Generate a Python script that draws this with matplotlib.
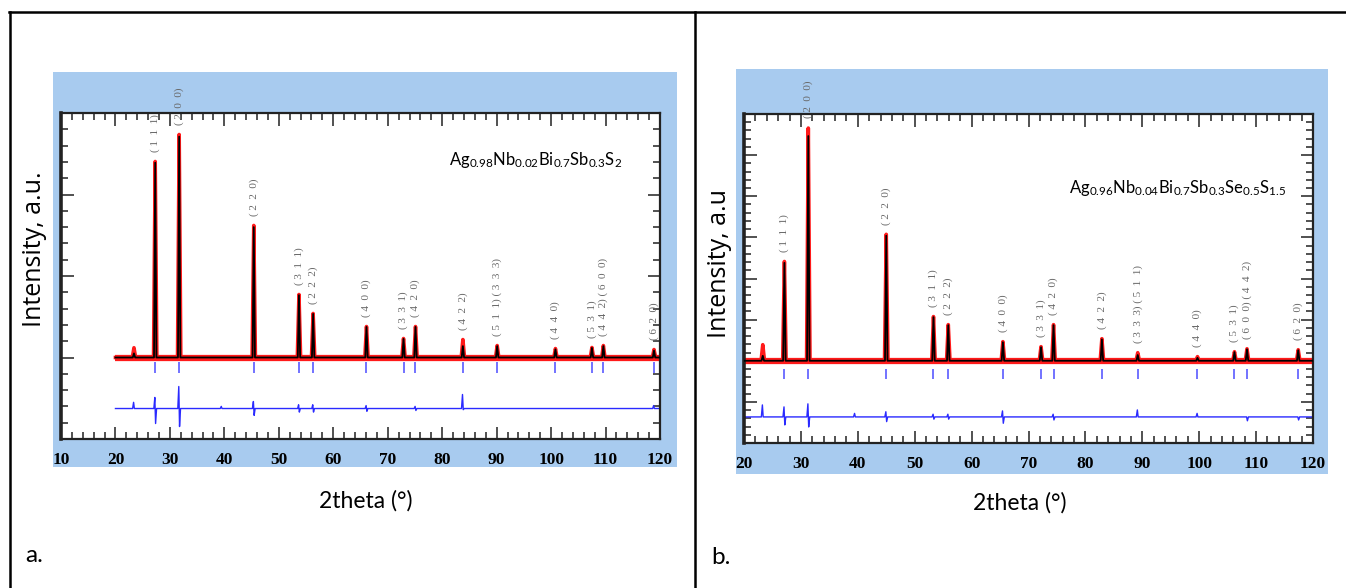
import matplotlib.pyplot as plt
from matplotlib.patches import Rectangle
from matplotlib.lines import Line2D
from matplotlib.ticker import MultipleLocator

plt.rcParams['mathtext.default'] = 'regular'

# ---- panel a : Ag0.98Nb0.02Bi0.7Sb0.3S2 ----
a_peak_pos = [23.4, 27.3, 31.7, 45.4, 53.7, 56.3, 66.1, 72.9, 75.1, 83.8, 90.1, 100.8, 107.5, 109.6, 118.9]
a_obs = [120, 2405, 2736, 1620, 773, 540, 380, 233, 380, 220, 147, 110, 123, 147, 98]
a_calc = [50, 2390, 2710, 1600, 765, 535, 375, 228, 375, 140, 140, 100, 118, 140, 85]
a_bragg = [27.3, 31.7, 45.4, 53.7, 56.3, 66.1, 72.9, 75.1, 83.8, 90.1, 100.8, 107.5, 109.6, 118.9]
a_hkl = ['( 1  1  1)', '( 2  0  0)', '( 2  2  0)', '( 3  1  1)', '( 2  2  2)', '( 4  0  0)',
         '( 3  3  1)', '( 4  2  0)', '( 4  2  2)', '( 5  1  1) ( 3  3  3)', '( 4  4  0)',
         '( 5  3  1)', '( 4  4  2) ( 6  0  0)', '( 6  2  0)']
a_diff_pos = [23.4, 27.3, 31.7, 39.5, 45.4, 53.7, 56.3, 66.1, 75.1, 83.8, 118.9]
a_diff_hi = [-550, -490, -356, -600, -540, -580, -580, -590, -600, -454, -590]
a_diff_lo = [-626, -810, -847, -626, -710, -670, -670, -660, -650, -640, -626]
a_diff_base = -626
a_formula = 'Ag$_{0.98}$Nb$_{0.02}$Bi$_{0.7}$Sb$_{0.3}$S$_{2}$'

# ---- panel b : Ag0.96Nb0.04Bi0.7Sb0.3Se0.5S1.5 ----
b_peak_pos = [23.3, 27.1, 31.3, 45.0, 53.3, 55.9, 65.5, 72.2, 74.4, 82.9, 89.2, 99.7, 106.2, 108.4, 117.4]
b_obs = [195, 1207, 2829, 1537, 537, 439, 232, 171, 439, 268, 98, 50, 110, 146, 134]
b_calc = [60, 1190, 2732, 1520, 530, 432, 225, 165, 432, 260, 70, 35, 105, 140, 128]
b_bragg = [27.1, 31.3, 45.0, 53.3, 55.9, 65.5, 72.2, 74.4, 82.9, 89.2, 99.7, 106.2, 108.4, 117.4]
b_hkl = ['( 1  1  1)', '( 2  0  0)', '( 2  2  0)', '( 3  1  1)', '( 2  2  2)', '( 4  0  0)',
         '( 3  3  1)', '( 4  2  0)', '( 4  2  2)', '( 3  3  3) ( 5  1  1)', '( 4  4  0)',
         '( 5  3  1)', '( 6  0  0) ( 4  4  2)', '( 6  2  0)']
b_diff_pos = [23.3, 27.1, 31.3, 39.5, 45.0, 53.3, 55.9, 65.5, 74.4, 89.2, 99.7, 108.4, 117.4]
b_diff_hi = [-537, -561, -524, -640, -620, -650, -650, -610, -650, -598, -640, -683, -683]
b_diff_lo = [-683, -780, -805, -683, -740, -710, -710, -760, -720, -683, -683, -730, -720]
b_diff_base = -683
b_formula = 'Ag$_{0.96}$Nb$_{0.04}$Bi$_{0.7}$Sb$_{0.3}$Se$_{0.5}$S$_{1.5}$'

W, H = 1346, 588
BLUE = '#a8cbef'
fig = plt.figure(figsize=(W / 100, H / 100), dpi=100)


def fx(px):
    return px / W


def fy(py):
    return 1 - py / H


# table borders
fig.add_artist(Line2D([fx(9), 1], [fy(12), fy(12)], color='black', lw=1.8))
fig.add_artist(Line2D([fx(10), fx(10)], [fy(12), 0], color='black', lw=1.8))
fig.add_artist(Line2D([fx(695), fx(695)], [fy(12), 0], color='black', lw=1.8))


def pattern(pos, hts, x0, x1, w):
    xs, ys = [x0], [0]
    for p, h in zip(pos, hts):
        xs += [p - w, p, p + w]
        ys += [0, h, 0]
    xs.append(x1)
    ys.append(0)
    return xs, ys


def diff_curve(base, pos, hi, lo, x0, x1):
    xs, ys = [x0], [base]
    for p, a, b in zip(pos, hi, lo):
        xs += [p - 0.25, p - 0.07, p + 0.07, p + 0.25]
        ys += [base, a, b, base]
    xs.append(x1)
    ys.append(base)
    return xs, ys


def panel(blue_box, ax_box, xlim, ylim, ymaj, ymin, pos, obs, calc, bragg, bragg_y, hkl,
          dpos, dhi, dlo, dbase, formula, fpos, ylab, ylab_xy, xlab_xy, letter, letter_xy, pad):
    l, t, r, b = blue_box
    fig.add_artist(Rectangle((fx(l), fy(b)), (r - l) / W, (b - t) / H, color=BLUE, zorder=-1, lw=0))
    l, t, r, b = ax_box
    ax = fig.add_axes([fx(l), fy(b), (r - l) / W, (b - t) / H])
    ax.set_xlim(*xlim)
    ax.set_ylim(*ylim)

    # observed (red), calculated (black)
    ax.hlines(0, 20, 120, color='#ff1a1a', lw=4.5, zorder=2)
    xs, ys = pattern(pos, obs, 20, 120, 0.3)
    ax.plot(xs, ys, color='#ff1a1a', lw=2.6, zorder=2, solid_joinstyle='round')
    xs, ys = pattern(pos, calc, 20, 120, 0.22)
    ax.plot(xs, ys, color='black', lw=1.3, zorder=3)
    # Bragg positions and difference curve
    ax.vlines(bragg, bragg_y[0], bragg_y[1], color='#5a5aff', lw=1.2, zorder=2)
    xs, ys = diff_curve(dbase, dpos, dhi, dlo, 20, 120)
    ax.plot(xs, ys, color='#2a2aff', lw=1.0, zorder=2)

    for p, h, lab in zip(bragg, obs[1:], hkl):
        ax.annotate(lab, (p, h), xytext=(0, 7), textcoords='offset points', rotation=90,
                    ha='center', va='bottom', fontsize=8, color='#686868',
                    family='Liberation Serif')

    ax.text(fpos[0], fpos[1], formula, transform=ax.transAxes, ha='center', va='center',
            fontsize=12, family='Lato')

    ax.xaxis.set_major_locator(MultipleLocator(10))
    ax.xaxis.set_minor_locator(MultipleLocator(2))
    ax.yaxis.set_major_locator(MultipleLocator(ymaj))
    ax.yaxis.set_minor_locator(MultipleLocator(ymin))
    ax.tick_params(which='both', direction='in', top=True, right=True, labelleft=False,
                   width=1.1, color='#222222')
    ax.tick_params(which='major', length=9, pad=pad, labelsize=12.5)
    ax.tick_params(which='minor', length=5)
    plt.setp(ax.get_xticklabels(), family='Liberation Serif', weight='bold')
    for s in ax.spines.values():
        s.set_linewidth(1.6)
        s.set_color('#222222')
    ax.spines['left'].set_linewidth(2.6)

    fig.text(fx(ylab_xy[0]), fy(ylab_xy[1]), ylab, rotation=90, ha='center', va='center',
             fontsize=18, family='Open Sans')
    fig.text(fx(xlab_xy[0]), fy(xlab_xy[1]), '2theta (°)', ha='center', va='center',
             fontsize=16.5, family='Lato')
    fig.text(fx(letter_xy[0]), fy(letter_xy[1]), letter, ha='left', va='center',
             fontsize=17.5, family='Lato')
    return ax


panel((53, 72, 677, 467), (61, 113, 660, 439), (10, 120), (-1000, 3000), 1000, 200,
      a_peak_pos, a_obs, a_calc, a_bragg, (-50, -185), a_hkl,
      a_diff_pos, a_diff_hi, a_diff_lo, a_diff_base, a_formula, (0.793, 0.856),
      'Intensity, a.u.', (35, 249), (366, 501), 'a.', (25, 555), 9)

panel((736, 69, 1328, 474), (744, 114, 1313, 443), (20, 120), (-1000, 3000), 500, 100,
      b_peak_pos, b_obs, b_calc, b_bragg, (-98, -220), b_hkl,
      b_diff_pos, b_diff_hi, b_diff_lo, b_diff_base, b_formula, (0.762, 0.775),
      'Intensity, a.u', (720, 263), (1020, 503), 'b.', (711, 558), 9)

fig.savefig('out.png', dpi=100)
